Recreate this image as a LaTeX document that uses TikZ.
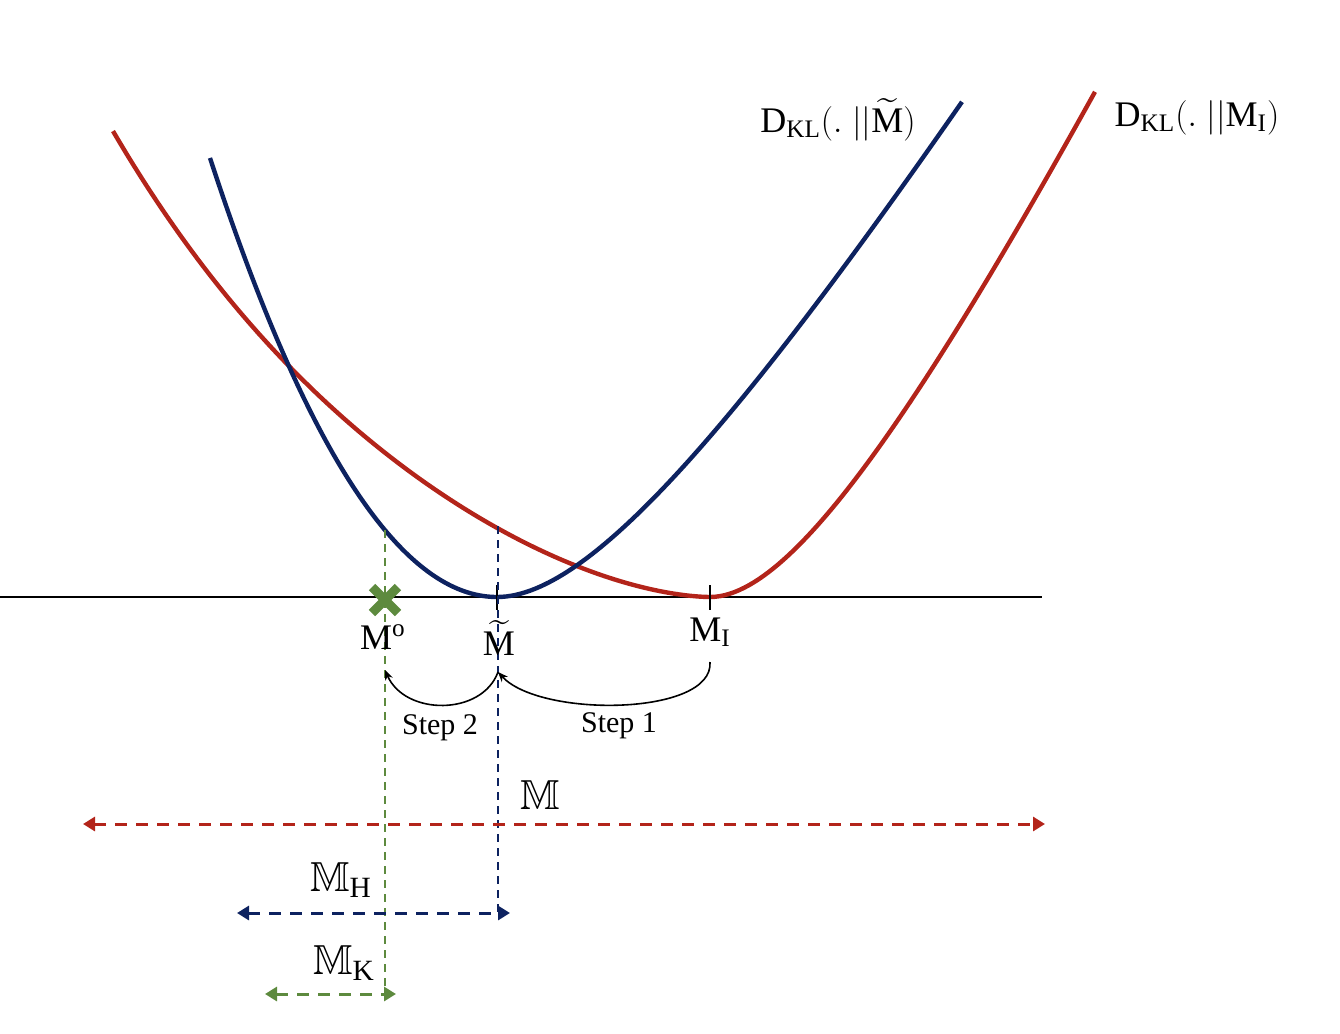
\documentclass[tikz,border=0pt]{standalone}
\usepackage{fontspec}
\usepackage{amssymb}
\setmainfont{Liberation Serif}
\usetikzlibrary{arrows.meta,calc}
\definecolor{cred}{HTML}{B3241A}
\definecolor{cblue}{HTML}{0D2260}
\definecolor{cgreen}{HTML}{5D8A3E}
\tikzset{
  curve/.style={line width=2.2pt, line join=round},
  guide/.style={line width=0.8pt, dash pattern=on 4pt off 3pt},
  spanarrow/.style={line width=1.5pt, dash pattern=on 6pt off 4.5pt, {Triangle[length=6pt,width=7pt]}-{Triangle[length=6pt,width=7pt]}},
  stepar/.style={line width=0.8pt, -{Stealth[length=5pt,width=4pt]}},
  lbl/.style={font=\fontsize{18}{21}\selectfont, inner sep=0pt},
  bblbl/.style={font=\fontsize{21}{24}\selectfont, inner sep=0pt},
  slbl/.style={font=\fontsize{15}{18}\selectfont, inner sep=0pt},
}
\begin{document}
\begin{tikzpicture}[x=0.5pt,y=-0.5pt]
\useasboundingbox (0,0) rectangle (1340,1034);
% axis
\coordinate (axL) at (0,597);
\coordinate (axR) at (1042,597);
\draw[line width=1.3pt] (axL) -- (axR);
% curves
\draw[curve,cred]
  plot[domain=113:709.5,samples=120,variable=\x] ({\x},{597-19.0*pow((710-\x)/100,1.7)-0.0092*pow((710-\x)/100,5)})
  -- plot[domain=710:1095,samples=80,variable=\x] ({\x},{597-90.9*pow((\x-710)/100,2)/(1+0.433*(\x-710)/100)});
\draw[curve,cblue]
  plot[domain=210:497,samples=80,variable=\x] ({\x},{597-53.3*pow((497-\x)/100,2)})
  -- plot[domain=497:962,samples=100,variable=\x] ({\x},{597-65.6*pow((\x-497)/100,2)/(1+0.401*(\x-497)/100)});
% ticks
\coordinate (tMt) at (497,585);
\coordinate (bMt) at (497,610);
\coordinate (tMi) at (710,585);
\coordinate (bMi) at (710,610);
\draw[line width=0.9pt] (tMt) -- (bMt);
\draw[line width=0.9pt] (tMi) -- (bMi);
% guides
\coordinate (gTop) at (385,530);
\coordinate (gBot) at (385,997);
\coordinate (bTop) at (498,526);
\coordinate (bBot) at (498,913);
\draw[guide,cgreen] (gTop) -- (gBot);
\draw[guide,cblue] (bTop) -- (bBot);
% green cross
\coordinate (xc) at (385,600);
\draw[cgreen,line width=4.5pt] ($(xc)+(-13,-13)$) -- ($(xc)+(13,13)$);
\draw[cgreen,line width=4.5pt] ($(xc)+(-13,13)$) -- ($(xc)+(13,-13)$);
% labels
\node[lbl] (lMo) at (383,637) {$\mathrm{M}^{\mathrm{o}}$};
\node[lbl] (lMt) at (499,638) {$\widetilde{\mathrm{M}}$};
\node[lbl] (lMi) at (710,632) {$\mathrm{M}_{\mathrm{I}}$};
\node[lbl] (lD1) at (838,120) {$\mathrm{D}_{\mathrm{KL}}(.\;||\widetilde{\mathrm{M}})$};
\node[lbl] (lD2) at (1197,118) {$\mathrm{D}_{\mathrm{KL}}(.\;||\mathrm{M}_{\mathrm{I}})$};
% step arrows
\coordinate (sMi) at (710,662);
\coordinate (sMt) at (498,672);
\coordinate (sMo) at (385,670);
\draw[stepar] (sMi) .. controls (714,716) and (540,718) .. (sMt);
\draw[stepar] (sMt) .. controls (482,716) and (405,716) .. (sMo);
\node[slbl] (st2) at (440,728) {Step 2};
\node[slbl] (st1) at (619,726) {Step 1};
% ranges
\coordinate (rL) at (83,824);
\coordinate (rR) at (1045,824);
\coordinate (hL) at (237,913);
\coordinate (hR) at (510,913);
\coordinate (kL) at (265,994);
\coordinate (kR) at (396,994);
\draw[spanarrow,cred] (rL) -- (rR);
\draw[spanarrow,cblue] (hL) -- (hR);
\draw[spanarrow,cgreen] (kL) -- (kR);
\node[bblbl] (lM) at (540,795) {$\mathbb{M}$};
\node[bblbl] (lMH) at (341,880) {$\mathbb{M}_{\mathrm{H}}$};
\node[bblbl] (lMK) at (344,963) {$\mathbb{M}_{\mathrm{K}}$};
\end{tikzpicture}
\end{document}
